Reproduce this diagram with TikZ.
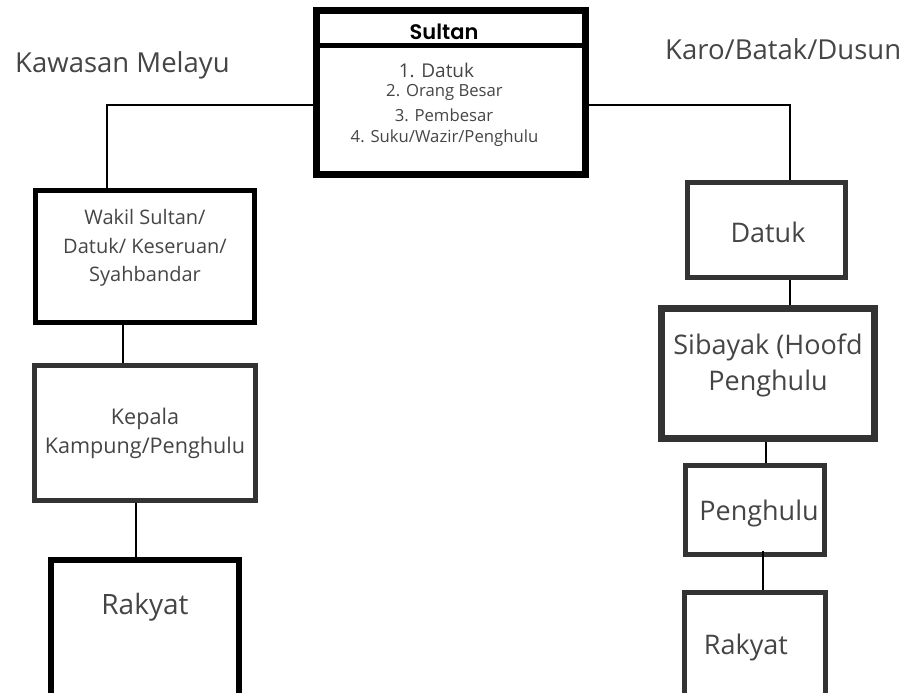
\documentclass[tikz,border=0pt]{standalone}
\usepackage{fontspec}
\setmainfont{Open Sans}
\IfFontExistsTF{Poppins SemiBold}
  {\newfontfamily\headfont{Poppins SemiBold}}
  {\IfFontExistsTF{Poppins Medium}
    {\newfontfamily\headfont{Poppins Medium}}
    {\newfontfamily\headfont{Poppins}}}
\usetikzlibrary{calc}
\definecolor{boxgrey}{HTML}{333333}
\definecolor{textgrey}{HTML}{454545}
\tikzset{
  box/.style={draw=boxgrey, line width=5pt, inner sep=0pt},
  heavybox/.style={box, draw=black, line width=7pt},
  link/.style={line width=2.5pt, black},
  txt/.style={text=textgrey, align=center, inner sep=0pt},
}

\begin{document}
\begin{tikzpicture}[x=1pt,y=-1pt]
\useasboundingbox (0,0) rectangle (908,693);

% boxes
\node[heavybox, minimum width=269pt, minimum height=164pt] (sultan) at (451,92.5) {};
\node[box, draw=black, minimum width=219pt, minimum height=132pt] (wakil) at (145,256.5) {};
\node[box, minimum width=221pt, minimum height=135pt] (kepala) at (145,433) {};
\node[box, draw=black, line width=6pt, minimum width=188pt, minimum height=137pt] (rakyatL) at (145,628.5) {};
\node[box, minimum width=158pt, minimum height=95pt] (datuk) at (766.5,230) {};
\node[heavybox, draw=boxgrey, minimum width=213pt, minimum height=130pt] (sibayak) at (768,373.5) {};
\node[box, minimum width=139pt, minimum height=89pt] (penghulu) at (755,510) {};
\node[box, minimum width=141pt, minimum height=104.5pt] (rakyatR) at (755,644.75) {};

\draw[line width=5pt] ([yshift=-39pt]sultan.north west) -- ([yshift=-39pt]sultan.north east); %divider

% texts
\node[txt, text=black, font=\headfont\fontsize{21}{24}\selectfont] (sultanT) at (444,32) {Sultan};
\node[txt, font=\fontsize{19}{22}\selectfont] (item1) at (436.5,70) {1. Datuk};
\node[txt, font=\fontsize{16.7}{20}\selectfont] (item2) at (444.5,92) {2. Orang Besar};
\node[txt, font=\fontsize{16.7}{20}\selectfont] (item3) at (444,115) {3. Pembesar};
\node[txt, font=\fontsize{16.7}{20}\selectfont] (item4) at (444.5,138) {4. Suku/Wazir/Penghulu};

\node[txt, anchor=west, font=\fontsize{27.5}{33}\selectfont] (melayuT) at (15,65) {Kawasan Melayu};
\node[txt, anchor=west, font=\fontsize{27.5}{33}\selectfont] (karoT) at (665,49) {Karo/Batak/Dusun};

\node[txt, font=\fontsize{20}{28.5}\selectfont] (wakilT) at (145,248) {Wakil Sultan/\\Datuk/ Keseruan/\\Syahbandar};
\node[txt, font=\fontsize{21.6}{29}\selectfont] (kepalaT) at (145,433.5) {Kepala\\Kampung/Penghulu};
\node[txt, font=\fontsize{28}{34}\selectfont] (rakyatLT) at (145,607) {Rakyat};
\node[txt, font=\fontsize{27}{36}\selectfont] (datukT) at (768,232) {Datuk};
\node[txt, font=\fontsize{27}{36}\selectfont] (sibayakT) at (768,365) {Sibayak (Hoofd\\Penghulu};
\node[txt, font=\fontsize{27}{36}\selectfont] (penghuluT) at (759,513) {Penghulu};
\node[txt, font=\fontsize{27}{36}\selectfont] (rakyatRT) at (746,647) {Rakyat};

% connectors
\coordinate (jL) at (107,105);
\coordinate (jR) at (790,105);
\draw[link] (sultan.west |- jL) -- (jL) -- (wakil.north -| jL);
\draw[link] (sultan.east |- jR) -- (jR) -- (datuk.north -| jR);
\draw[link] ([xshift=-22pt]wakil.south) -- ([xshift=-22pt]wakil.south |- kepala.north);
\draw[link] ([xshift=-9pt]kepala.south) -- ([xshift=-9pt]kepala.south |- rakyatL.north);
\draw[link] (datuk.south -| jR) -- (sibayak.north -| jR);
\draw[link] ([xshift=-2pt]sibayak.south) -- ([xshift=-2pt]sibayak.south |- penghulu.north);
\draw[link] ([xshift=8pt,yshift=6.5pt]penghulu.south) -- ([xshift=8pt]penghulu.south |- rakyatR.north);
\end{tikzpicture}
\end{document}
